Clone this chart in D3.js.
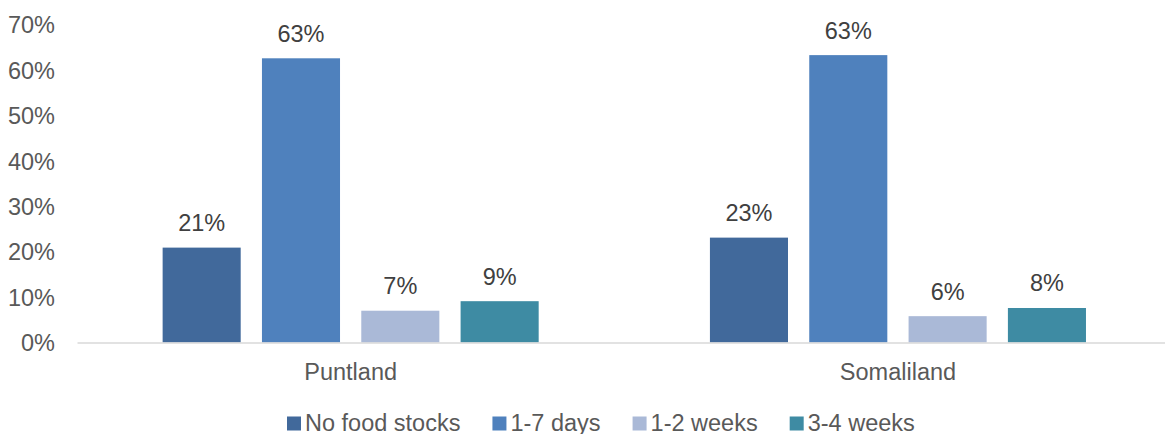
<!DOCTYPE html>
<html>
<head>
<meta charset="utf-8">
<script src="https://cdn.jsdelivr.net/npm/d3@7"></script>
<style>
  html, body { margin: 0; padding: 0; background: #fff; }
  svg { display: block; font-family: "Liberation Sans", Arial, sans-serif; }
</style>
</head>
<body>
<svg id="chart" width="1165" height="434"></svg>
<script>
// Regions and food-stock duration groups
const regions = ["Puntland", "Somaliland"];
const series = ["No food stocks", "1-7 days", "1-2 weeks", "3-4 weeks"];
const colors = ["#41699b", "#4f81bd", "#aab9d7", "#3e8ba3"];

// Share of households (%) per region, in series order
const puntland = [20.9, 62.6, 7.0, 9.1];
const somaliland = [23.1, 63.3, 5.8, 7.6];

// Y-axis ticks (%)
const yTicks = [0, 10, 20, 30, 40, 50, 60, 70];

const values = [puntland, somaliland];
const rows = regions.map((r, i) => ({
  region: r,
  items: series.map((s, j) => ({ series: s, value: values[i][j], color: colors[j] }))
}));

const FONT = 23.5;
const svg = d3.select("#chart");

const y = d3.scaleLinear().domain([0, 70]).range([342.5, 24.7]);
const x0 = d3.scaleBand().domain(regions).range([77, 1171.6]).padding(0);
const x1 = d3.scaleBand().domain(series)
  .range([75, x0.bandwidth() - 75])
  .paddingInner(0.214).paddingOuter(0.107);

// Y axis labels (no tick lines or gridlines)
const yAxis = d3.axisLeft(y).tickValues(yTicks).tickFormat(d => d + "%").tickSize(0).tickPadding(0);
const gy = svg.append("g").attr("transform", "translate(55,0)").call(yAxis);
gy.select(".domain").remove();
gy.selectAll("text")
  .attr("font-size", FONT)
  .attr("fill", "#595959")
  .attr("font-family", "'Liberation Sans', Arial, sans-serif")
  .attr("dy", "0.35em");

// Bars
const groups = svg.append("g").selectAll("g")
  .data(rows).join("g")
  .attr("transform", d => `translate(${x0(d.region)},0)`);

groups.selectAll("rect")
  .data(d => d.items).join("rect")
  .attr("x", d => x1(d.series))
  .attr("width", x1.bandwidth())
  .attr("y", d => y(d.value))
  .attr("height", d => y(0) - y(d.value))
  .attr("fill", d => d.color);

// Value labels
groups.selectAll("text.val")
  .data(d => d.items).join("text")
  .attr("class", "val")
  .attr("x", d => x1(d.series) + x1.bandwidth() / 2)
  .attr("y", d => y(d.value) - 16.5)
  .attr("text-anchor", "middle")
  .attr("font-size", FONT)
  .attr("fill", "#404040")
  .text(d => Math.round(d.value) + "%");

// Baseline / category axis
const xAxis = d3.axisBottom(x0).tickSize(0).tickPadding(0);
const gx = svg.append("g").attr("transform", `translate(0,${y(0)})`).call(xAxis);
gx.select(".domain").attr("stroke", "#d9d9d9").attr("stroke-width", 1.5);
gx.selectAll("text")
  .attr("font-size", FONT)
  .attr("fill", "#595959")
  .attr("font-family", "'Liberation Sans', Arial, sans-serif")
  .attr("dy", 0)
  .attr("y", 37);

// Legend
const legend = svg.append("g").attr("transform", "translate(287,0)");
let lx = 0;
series.forEach((s, i) => {
  const g = legend.append("g").attr("transform", `translate(${lx},0)`);
  g.append("rect").attr("x", 0).attr("y", 416.5).attr("width", 14).attr("height", 14).attr("fill", colors[i]);
  const t = g.append("text").attr("x", 18).attr("y", 430.5)
    .attr("font-size", FONT).attr("fill", "#595959").text(s);
  lx += 18 + t.node().getComputedTextLength() + 32;
});
</script>
</body>
</html>
